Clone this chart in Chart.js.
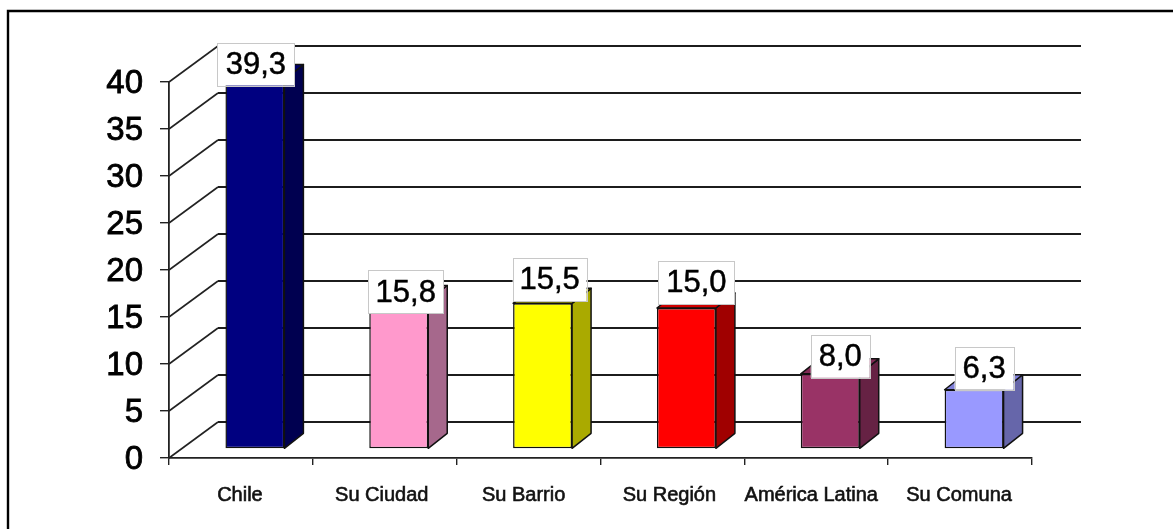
<!DOCTYPE html>
<html>
<head>
<meta charset="utf-8">
<style>
html,body{margin:0;padding:0;background:#fff;}
#wrap{width:1173px;height:529px;position:relative;overflow:hidden;}
</style>
<script src="https://cdn.jsdelivr.net/npm/chart.js@4"></script>
</head>
<body>
<div id="wrap"><canvas id="c" width="1173" height="529"></canvas></div>
<script>
const categories = ["Chile","Su Ciudad","Su Barrio","Su Región","América Latina","Su Comuna"];
const values = [39.3,15.8,15.5,15.0,8.0,6.3];
const valueLabels = ["39,3","15,8","15,5","15,0","8,0","6,3"];
const yTicks = [0,5,10,15,20,25,30,35,40];
const faceColors = ["#000080","#FF99CC","#FFFF00","#FF0000","#993366","#9999FF"];
const sideColors = ["#000050","#A6688C","#AAAA00","#A00000","#662244","#6666AA"];
const topColors  = ["#000068","#D080A8","#D4D400","#D00000","#802B55","#8080D8"];

// hand-placed labels: nudge from the default position, and box width
const labelDX = [1,7,7,10,10,10];
const labelDY = [-37,-30,-45,-47,-39,-43];
const labelW  = [77,75,74,76,59,59];
const labelH  = 43;
const catLabelDX = [-1,-3,-5,-3,-5,-1];

const WALL = {dx:49, dy:-36};   // wall depth
const BAR  = {dx:19, dy:-15};   // bar depth
const FLOOR= {dx:14, dy:-9};    // bar front plane

const threeD = {
  id:'threeD',
  beforeDraw(chart){
    const {x,y} = chart.scales;
    x.getLabelItems().forEach((it,i)=>{it.options.translation[0]+=catLabelDX[i];});
    y.getLabelItems().forEach(it=>{it.options.translation[1]+=2;});
  },
  beforeDatasetsDraw(chart){
    const {ctx,scales:{x,y}} = chart;
    ctx.save();
    // outer frame
    ctx.strokeStyle='#000';ctx.lineWidth=2.4;
    ctx.beginPath();ctx.moveTo(8,529);ctx.lineTo(8,11);ctx.lineTo(1173,11);ctx.stroke();
    // wall grid
    yTicks.forEach(t=>{
      const p=y.getPixelForValue(t);
      ctx.strokeStyle='#222';ctx.lineWidth=1.6;
      ctx.beginPath();ctx.moveTo(x.left,p);ctx.lineTo(x.left+WALL.dx,p+WALL.dy);ctx.stroke();
      ctx.lineWidth=2;ctx.strokeStyle='#1c1c1c';
      ctx.beginPath();ctx.moveTo(x.left+WALL.dx,p+WALL.dy);ctx.lineTo(x.right+WALL.dx,p+WALL.dy);ctx.stroke();
    });
    ctx.restore();
  },
  beforeDatasetDraw(chart){
    const {ctx} = chart;
    const meta = chart.getDatasetMeta(0);
    ctx.save();
    ctx.translate(FLOOR.dx,FLOOR.dy);
    ctx.strokeStyle='#111';ctx.lineWidth=1.5;ctx.lineJoin='round';
    meta.data.forEach((b,i)=>{
      const l=b.x-b.width/2,r=b.x+b.width/2,t=b.y,bt=b.base;
      ctx.fillStyle=sideColors[i];
      ctx.beginPath();ctx.moveTo(r,t);ctx.lineTo(r+BAR.dx,t+BAR.dy);ctx.lineTo(r+BAR.dx,bt+BAR.dy);ctx.lineTo(r,bt);ctx.closePath();ctx.fill();ctx.stroke();
      ctx.fillStyle=topColors[i];
      ctx.beginPath();ctx.moveTo(l,t);ctx.lineTo(l+BAR.dx,t+BAR.dy);ctx.lineTo(r+BAR.dx,t+BAR.dy);ctx.lineTo(r,t);ctx.closePath();ctx.fill();ctx.stroke();
    });
    // bars themselves are drawn by the library in this translated frame
  },
  afterDatasetDraw(chart){
    chart.ctx.restore();
  },
  afterDatasetsDraw(chart){
    const {ctx} = chart;
    const meta = chart.getDatasetMeta(0);
    ctx.save();
    ctx.font='31px "Liberation Sans", Arial, sans-serif';
    ctx.textAlign='center';ctx.textBaseline='middle';
    meta.data.forEach((b,i)=>{
      const cx=b.x+FLOOR.dx+labelDX[i];
      const top=b.y+FLOOR.dy+labelDY[i];
      const w=labelW[i];
      ctx.fillStyle='#fff';ctx.fillRect(cx-w/2,top,w,labelH);
      ctx.strokeStyle='#c8c8c8';ctx.lineWidth=1;ctx.strokeRect(Math.round(cx-w/2)+.5,Math.round(top)+.5,w,labelH);
      ctx.fillStyle='#000';ctx.strokeStyle='#000';ctx.lineWidth=0.5;
      ctx.fillText(valueLabels[i],cx,top+labelH/2+1);
      ctx.strokeText(valueLabels[i],cx,top+labelH/2+1);
    });
    ctx.restore();
  }
};

new Chart(document.getElementById('c'),{
  type:'bar',
  data:{labels:categories,datasets:[{
    data:values,
    backgroundColor:faceColors,
    borderColor:'#111',
    borderWidth:1.5,
    borderSkipped:false,
    barPercentage:0.41,
    categoryPercentage:1
  }]},
  plugins:[threeD],
  options:{
    responsive:false,
    animation:false,
    events:[],
    layout:{padding:{left:0,top:82,right:141,bottom:0}},
    plugins:{legend:{display:false},title:{display:false},tooltip:{enabled:false}},
    scales:{
      x:{
        afterFit(s){s.height=71;},
        grid:{display:true,drawOnChartArea:false,drawTicks:true,tickLength:7,color:'#222',lineWidth:1.4},
        border:{display:true,color:'#222',width:1.8},
        ticks:{color:'#111',padding:18,maxRotation:0,autoSkip:false,textStrokeColor:'#111',textStrokeWidth:0.6,
          font:{family:'"Liberation Sans", Arial, sans-serif',size:20}}
      },
      y:{
        min:0,max:40,
        afterFit(s){s.width=169;},
        afterBuildTicks(s){s.ticks=yTicks.map(v=>({value:v}));},
        grid:{display:true,drawOnChartArea:false,drawTicks:true,tickLength:9,color:'#222',lineWidth:1.4},
        border:{display:true,color:'#222',width:1.8},
        ticks:{color:'#000',padding:17,textStrokeColor:'#000',textStrokeWidth:0.8,
          font:{family:'"Liberation Sans", Arial, sans-serif',size:33}}
      }
    }
  }
});
</script>
</body>
</html>
